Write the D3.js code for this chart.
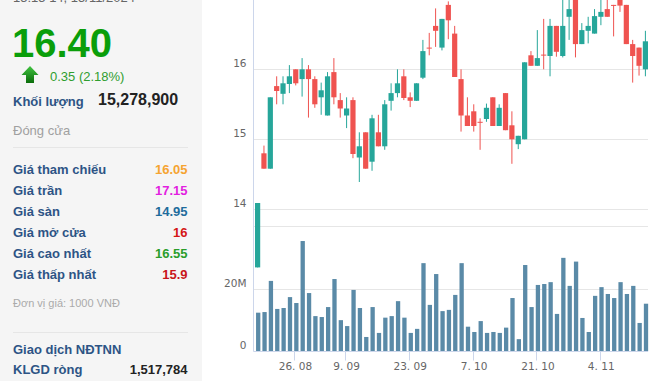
<!DOCTYPE html>
<html><head><meta charset="utf-8">
<script src="https://cdn.jsdelivr.net/npm/d3@7"></script>
<style>html,body{margin:0;padding:0;background:#fff;overflow:hidden}</style>
</head><body><svg id="c" width="665" height="381"></svg>
<script>
// ---------- DATA ----------
const openP  = [13.17,14.80,14.58,15.76,15.65,15.79,16.00,15.86,16.00,15.86,15.60,15.34,15.96,15.56,15.34,15.56,14.74,15.10,14.68,15.10,14.90,15.55,15.66,15.90,15.60,15.55,15.88,16.31,16.62,16.31,16.92,16.51,15.86,15.34,15.40,15.25,15.29,15.60,15.19,15.66,15.20,14.93,15.00,16.20,16.05,16.21,16.19,16.62,16.19,16.75,17.05,16.36,16.55,16.51,16.75,16.86,16.92,17.05,16.92,16.36,16.31,16.00];
const highP  = [14.09,14.91,15.60,15.90,15.90,16.06,16.00,16.16,16.06,15.90,15.81,15.96,16.16,15.66,15.60,15.60,15.10,15.10,15.35,15.35,15.56,15.80,16.00,16.00,15.67,15.80,16.42,16.52,16.87,16.72,16.97,16.62,16.00,15.60,15.50,15.30,15.51,15.60,15.50,15.66,15.40,15.05,16.10,16.26,16.56,16.72,16.72,16.62,17.05,17.05,17.20,16.66,16.75,16.86,17.05,17.05,16.92,17.10,16.92,16.42,16.31,16.55];
const lowP   = [13.17,14.58,14.58,15.50,15.50,15.66,15.77,15.61,15.31,15.45,15.35,15.34,15.50,15.31,15.16,14.73,14.39,14.58,14.55,14.90,14.85,15.41,15.60,15.56,15.46,15.55,15.86,16.20,16.32,16.27,16.43,15.89,15.11,15.19,15.11,14.85,15.25,15.19,15.19,15.13,14.65,14.86,15.00,16.05,16.05,16.00,15.90,16.18,16.17,16.42,16.17,16.36,16.37,16.51,16.63,16.75,16.47,16.82,16.36,15.81,15.91,15.90];
const closeP = [14.09,14.58,15.60,15.69,15.80,15.90,15.80,16.00,15.86,15.50,15.70,15.90,15.60,15.44,15.44,14.79,14.90,14.58,15.30,14.90,15.50,15.66,15.80,15.59,15.55,15.80,16.26,16.30,16.55,16.72,16.70,15.89,15.34,15.19,15.19,15.24,15.45,15.19,15.45,15.13,15.00,15.05,16.10,16.05,16.16,16.20,16.62,16.25,16.62,16.86,16.36,16.56,16.62,16.76,16.82,16.75,16.91,16.91,16.36,16.19,16.05,16.40];
const volumeM = [12.4,12.6,22.6,13.6,13.9,17.4,15.5,35.4,18.7,11.3,11.0,14.2,23.2,10.0,8.1,19.7,13.9,4.6,14.2,5.9,10.8,11.3,16.1,10.8,5.9,7.2,28.3,14.9,24.8,12.9,13.3,18.1,28.3,7.9,6.2,9.7,5.9,6.2,5.9,7.6,17.1,3.9,27.7,14.2,21.3,21.6,22.2,12.0,30.0,21.0,28.8,10.7,6.2,17.8,20.6,18.4,17.1,22.2,18.4,21.0,9.1,15.28];
const xTickLabels = ["26. 08","9. 09","23. 09","7. 10","21. 10","4. 11"];
const xTickIndex  = [5.7, 13.75, 23.75, 33.8, 43.85, 53.8];
const priceTicks  = [14,15,16,17];
const volTicks    = [0,20,40];
const volTickLabels = ["0","20M",""];

const headerTime = "15:15 14, 15/11/2024";
const lastPrice = "16.40";
const change = "0.35 (2.18%)";
const volLabel = "Khối lượng", volValue = "15,278,900";
const closeLabel = "Đóng cửa";
const rowLabels = ["Giá tham chiếu","Giá trần","Giá sàn","Giá mở cửa","Giá cao nhất","Giá thấp nhất"];
const rowValues = ["16.05","17.15","14.95","16","16.55","15.9"];
const rowColors = ["#f5a431","#e21fe0","#1f6c9c","#d41616","#2a9d2a","#c8161b"];
const unitNote = "Đơn vị giá: 1000 VNĐ";
const foreignTitle = "Giao dịch NĐTNN";
const netLabel = "KLGD ròng", netValue = "1,517,784";

// ---------- DRAW ----------
const svg = d3.select("#c");
const n = closeP.length;
const data = d3.range(n).map(i => ({i, o:openP[i], h:highP[i], l:lowP[i], c:closeP[i], v:volumeM[i]}));

// left panel
svg.append("rect").attr("x",0).attr("y",0).attr("width",202).attr("height",381).attr("fill","#f5f5f5");
const sans = "Arial, 'Liberation Sans', Helvetica, sans-serif";
const L = svg.append("g").attr("font-family", sans);
L.append("text").attr("x",13).attr("y",2).attr("font-size",13).attr("fill","#666").text(headerTime);
L.append("text").attr("x",12).attr("y",56.5).attr("font-size",40).attr("font-weight","bold").attr("fill","#0a9e0a").text(lastPrice);
const defs = svg.append("defs");
const grad = defs.append("linearGradient").attr("id","ag").attr("x1",0).attr("y1",0).attr("x2",0).attr("y2",1);
grad.append("stop").attr("offset","0").attr("stop-color","#41c441");
grad.append("stop").attr("offset","1").attr("stop-color","#0b6d0b");
L.append("path").attr("d","M30,66 L38.5,75 L34,75 L34,83 L26,83 L26,75 L21.5,75 Z").attr("fill","url(#ag)");
L.append("text").attr("x",50).attr("y",80.5).attr("font-size",13).attr("fill","#2f9e2f").text(change);
L.append("text").attr("x",13).attr("y",106).attr("font-size",13).attr("font-weight","bold").attr("fill","#2d5485").text(volLabel);
L.append("text").attr("x",98).attr("y",105).attr("font-size",16).attr("font-weight","bold").attr("fill","#222").text(volValue);
L.append("text").attr("x",13).attr("y",134.5).attr("font-size",13).attr("fill","#a0a0a0").text(closeLabel);
L.append("line").attr("x1",13).attr("x2",188).attr("y1",147.5).attr("y2",147.5).attr("stroke","#e6e6e6");
rowLabels.forEach((t,k) => {
  const y = 173.5 + k*21;
  L.append("text").attr("x",13).attr("y",y).attr("font-size",13).attr("font-weight","bold").attr("fill","#2d5485").text(t);
  L.append("text").attr("x",187.5).attr("y",y).attr("text-anchor","end").attr("font-size",13).attr("font-weight","bold").attr("fill",rowColors[k]).text(rowValues[k]);
});
L.append("text").attr("x",13).attr("y",307).attr("font-size",11).attr("fill","#aaa").text(unitNote);
L.append("line").attr("x1",13).attr("x2",188).attr("y1",332.5).attr("y2",332.5).attr("stroke","#e6e6e6");
L.append("text").attr("x",13).attr("y",353.5).attr("font-size",13).attr("font-weight","bold").attr("fill","#2d5485").text(foreignTitle);
L.append("text").attr("x",13).attr("y",373.5).attr("font-size",13).attr("font-weight","bold").attr("fill","#2d5485").text(netLabel);
L.append("text").attr("x",187.5).attr("y",373.5).attr("text-anchor","end").attr("font-size",13).attr("font-weight","bold").attr("fill","#222").text(netValue);

// chart scales
const plotL = 253.5, plotR = 648;
const x = d3.scaleLinear().domain([0, n-1]).range([258.2, 646]);
const yP = d3.scaleLinear().domain([14,16]).range([209.3, 69.3]);
const yV = d3.scaleLinear().domain([0,40]).range([351.3, 226.7]);
const crisp = v => Math.floor(v) + 0.5;
const axisFont = "'DejaVu Sans', Verdana, sans-serif";

const G = svg.append("g");
// price gridlines + labels (labels only where they fit inside the view)
priceTicks.forEach(t => {
  const y = crisp(yP(t));
  G.append("line").attr("x1",plotL).attr("x2",plotR).attr("y1",y).attr("y2",y).attr("stroke","#e6e6e6");
  if (yP(t) > 12)
    G.append("text").attr("x",246.5).attr("y",yP(t)-2.5).attr("text-anchor","end")
     .attr("font-family",axisFont).attr("font-size",10.5).attr("fill","#666").text(String(t));
});
volTicks.forEach((t,k) => {
  const y = crisp(yV(t));
  if (t>0) G.append("line").attr("x1",plotL).attr("x2",plotR).attr("y1",y).attr("y2",y).attr("stroke","#e6e6e6");
  if (volTickLabels[k])
    G.append("text").attr("x",246.5).attr("y",yV(t)-2.5).attr("text-anchor","end")
     .attr("font-family",axisFont).attr("font-size",10.5).attr("fill","#666").text(volTickLabels[k]);
});

// volume bars
G.append("g").selectAll("rect").data(data).join("rect")
  .attr("x", d => x(d.i) - 2.15).attr("width", 4.3)
  .attr("y", d => yV(d.v)).attr("height", d => yV(0) - yV(d.v))
  .attr("fill", "#5a8aa7");

// candles
const up = "#26a69a", dn = "#ef5350";
const cg = G.append("g").selectAll("g").data(data).join("g");
cg.append("line")
  .attr("x1", d => x(d.i) - 0.6).attr("x2", d => x(d.i) - 0.6)
  .attr("y1", d => yP(d.h)).attr("y2", d => yP(d.l))
  .attr("stroke", d => d.c >= d.o ? up : dn).attr("stroke-width", 1);
cg.append("rect")
  .attr("x", d => x(d.i) - 0.6 - 2.6).attr("width", 5.2)
  .attr("y", d => yP(Math.max(d.o,d.c)))
  .attr("height", d => Math.max(1, Math.abs(yP(d.o) - yP(d.c))))
  .attr("fill", d => d.c >= d.o ? up : dn);

// axes lines
G.append("line").attr("x1",plotL).attr("x2",plotL).attr("y1",0).attr("y2",crisp(yV(0))).attr("stroke","#ccd6eb");
G.append("line").attr("x1",plotL).attr("x2",plotR).attr("y1",crisp(yV(0))).attr("y2",crisp(yV(0))).attr("stroke","#ccd6eb");
xTickIndex.forEach((p,k) => {
  const xx = crisp(x(p));
  G.append("line").attr("x1",xx).attr("x2",xx).attr("y1",crisp(yV(0))).attr("y2",crisp(yV(0))+9).attr("stroke","#ccd6eb");
  G.append("text").attr("x",x(p)+1).attr("y",370).attr("text-anchor","middle")
   .attr("font-family",axisFont).attr("font-size",10.5).attr("fill","#666").text(xTickLabels[k]);
});
</script></body></html>
